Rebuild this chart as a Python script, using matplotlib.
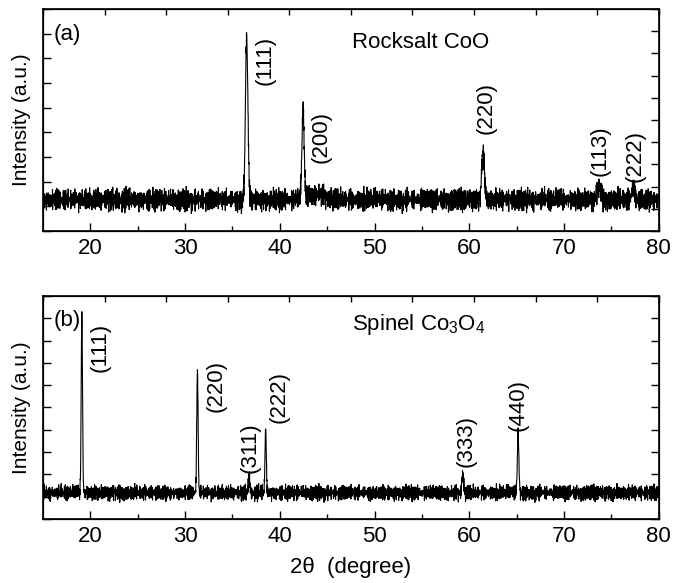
import numpy as np
import matplotlib
matplotlib.use('Agg')
import matplotlib.pyplot as plt

plt.rcParams['font.family'] = ['Liberation Sans', 'DejaVu Sans']
plt.rcParams['mathtext.default'] = 'regular'

# 2-theta grid of the scan (degrees)
two_theta = np.arange(15.0, 80.0001, 0.02)

# baseline noise (arbitrary units, two interleaved runs)
noise_a = [0.3, -0.5, 0.8, -0.2, 0.1, -0.9, 0.4, 0.6, -0.3, 0.0, -0.7, 0.9, -0.1, 0.2, -0.6,
           0.5, -0.4, 0.7, -0.8, 0.3, 0.1, -0.2, 0.6, -0.5, 0.9, -0.3, 0.0, 0.4, -0.9, 0.2,
           -0.1, 0.8, -0.6, 0.3, -0.4, 0.5, -0.7, 0.1, 0.7, -0.2, -0.5, 0.4, -0.8, 0.6, 0.0,
           -0.3, 0.9, -0.6, 0.2, -0.1, 0.5, -0.9, 0.3, 0.7, -0.4, 0.1, -0.7, 0.8, -0.2, 0.4, -0.5]
noise_b = [0.2, -0.4, 1.0, -0.3, 0.5, -0.1, -0.8, 0.3, 0.6, -0.5, 0.1, -1.0, 0.4, 0.2, -0.6,
           0.7, -0.2, 0.0, 0.9, -0.7, 0.3, -0.4, 0.5, -0.9, 0.1, 0.6, -0.3, 0.8, -0.5, 0.2,
           -0.1, 0.4, -0.8, 0.7, -0.6, 0.0, 0.3, -0.2, 1.0, -0.4, 0.5, -0.7, 0.1, 0.6, -0.9,
           0.2, -0.3, 0.8, -0.1, 0.4, -0.6, 0.3, -0.5]

# (a) rocksalt CoO
coo_base = 0.14
coo_noise = 0.036
coo_pos = [36.5, 42.45, 61.45, 73.7, 77.3, 43.8, 35.95]
coo_height = [0.73, 0.39, 0.23, 0.06, 0.055, 0.025, -0.05]
coo_width = [0.13, 0.12, 0.14, 0.2, 0.15, 1.0, 0.03]
coo_labels = ['(111)', '(200)', '(220)', '(113)', '(222)']
coo_label_x = [38.43, 44.33, 61.75, 73.77, 77.47]
coo_label_y = [0.770, 0.423, 0.554, 0.360, 0.338]

# (b) spinel Co3O4
spl_base = 0.117
spl_noise = 0.025
spl_pos = [19.1, 31.3, 36.75, 38.5, 59.3, 65.15]
spl_height = [0.80, 0.55, 0.07, 0.29, 0.08, 0.26]
spl_width = [0.07, 0.07, 0.08, 0.07, 0.09, 0.08]
spl_labels = ['(111)', '(220)', '(311)', '(222)', '(333)', '(440)']
spl_label_x = [21.01, 33.25, 36.84, 39.90, 59.63, 65.12]
spl_label_y = [0.771, 0.596, 0.318, 0.547, 0.350, 0.511]

n = len(two_theta)
noise = np.resize(noise_a, n) + np.resize(noise_b[::-1], n) * 0.8


def pattern(base, amp, pos, height, width, shift):
    y = base + amp * np.roll(noise, shift)
    for c, h, w in zip(pos, height, width):
        y = y + h * np.exp(-0.5 * ((two_theta - c) / w) ** 2)
    return y


coo = pattern(coo_base, coo_noise, coo_pos, coo_height, coo_width, 0)
spl = pattern(spl_base, spl_noise, spl_pos, spl_height, spl_width, 700)

fig = plt.figure(figsize=(6.73, 5.83), dpi=100)
ax1 = fig.add_axes([0.0639, 0.6038, 0.915, 0.3808])
ax2 = fig.add_axes([0.0639, 0.1098, 0.915, 0.3825])

panels = [
    (ax1, coo, coo_labels, coo_label_x, coo_label_y, '(a)', 'Rocksalt CoO', 10),
    (ax2, spl, spl_labels, spl_label_x, spl_label_y, '(b)', r'Spinel Co$_3$O$_4$', 11),
]

fs = 16
for ax, y, labels, lx, ly, tag, title, nleft in panels:
    ax.plot(two_theta, y, color='black', lw=0.8)
    ax.set_xlim(15, 80)
    ax.set_ylim(0, 1)
    ax.set_xticks([20, 30, 40, 50, 60, 70, 80])
    ax.set_xticks([25, 35, 45, 55, 65, 75], minor=True)
    ax.set_yticks(np.linspace(0, 1, nleft))
    ax.set_yticklabels([])
    ax.tick_params(axis='x', direction='in', length=6, width=1, labelsize=fs, pad=5)
    ax.tick_params(axis='x', which='minor', direction='in', length=3.5, width=1)
    ax.tick_params(axis='y', direction='in', length=6, width=1)
    ax.set_ylabel('Intensity (a.u.)', fontsize=15, labelpad=5)
    for s in ax.spines.values():
        s.set_linewidth(1.2)

    # right and top frame ticks
    axr = ax.twinx()
    axr.set_ylim(0, 1)
    axr.set_yticks(np.linspace(0, 1, 11))
    axr.set_yticklabels([])
    axr.tick_params(axis='y', direction='in', length=6, width=1)
    axt = ax.twiny()
    axt.set_xlim(15, 80)
    axt.set_xticks(np.linspace(15, 80, 11))
    axt.set_xticklabels([])
    axt.tick_params(axis='x', direction='in', length=4, width=1)

    for t, xx, yy in zip(labels, lx, ly):
        ax.text(xx, yy, t, rotation=90, ha='center', va='center', fontsize=fs)
    ax.text(17.53, ax is ax1 and 0.883 or 0.888, tag, ha='center', va='center', fontsize=fs)
    ax.text(47.6, ax is ax1 and 0.851 or 0.87, title, ha='left', va='center', fontsize=fs)

ax2.set_xlabel('2θ  (degree)', fontsize=fs, labelpad=7)

fig.savefig('out.png', dpi=100)
